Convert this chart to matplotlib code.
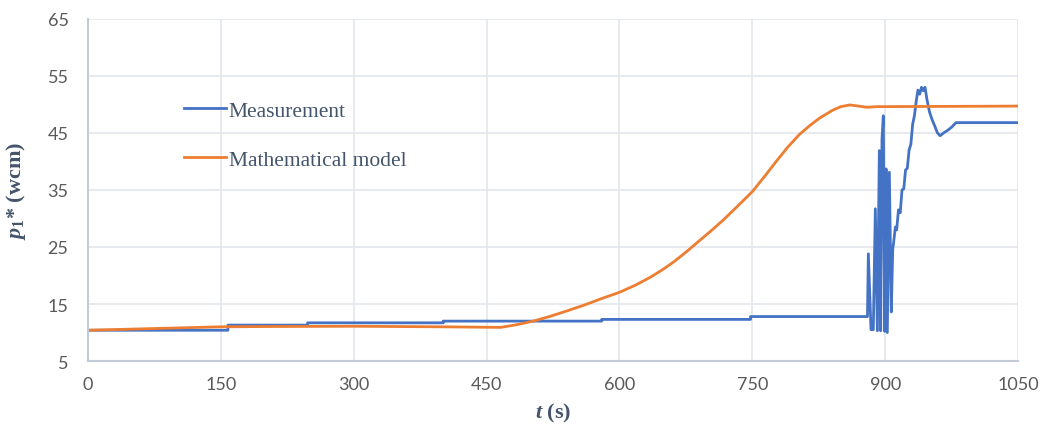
import matplotlib.pyplot as plt

# measured pressure p1* (wcm) over time t (s)
meas_t = [0, 158, 158, 248, 248, 401, 401, 580, 580, 748, 748, 880,
          881, 884, 886.6, 888.9, 891.2, 893.4, 894.9, 896.4, 897.9, 899.5,
          901, 902.4, 904.7, 906.9, 908.5, 910, 911.5, 913, 915, 917, 919,
          921, 923, 925, 927, 929, 931, 933, 935, 937, 939, 941, 943, 945,
          947, 950, 953, 956, 959, 962, 966, 970, 975, 980, 1050]
meas_p = [10.4, 10.4, 11.3, 11.3, 11.7, 11.7, 12.0, 12.0, 12.3, 12.3, 12.8, 12.8,
          23.8, 10.5, 10.5, 31.7, 10.3, 41.9, 10.3, 43.9, 48.0, 10.2,
          38.7, 10.0, 38.1, 13.6, 24.5, 26.4, 28.5, 28.0, 31.5, 31.0, 35.0,
          35.2, 38.5, 38.8, 42.0, 43.0, 46.5, 48.0, 50.5, 52.5, 51.8, 53.0, 52.4, 53.0,
          51.0, 48.7, 47.3, 46.2, 45.0, 44.5, 45.0, 45.4, 46.0, 46.8, 46.8]

# mathematical model output
model_t = [0, 50, 100, 150, 200, 300, 400, 466, 485, 504, 522, 541, 560, 579,
           600, 618, 635, 648, 661, 676, 691, 704, 717, 733, 750, 764, 777,
           790, 803, 815, 826, 841, 850, 860, 870, 879, 891, 1050]
model_p = [10.4, 10.6, 10.8, 11.0, 11.05, 11.1, 11.0, 10.9, 11.4, 12.05, 12.85,
           13.8, 14.8, 15.9, 17.05, 18.3, 19.7, 20.95, 22.35, 24.2, 26.2, 27.9,
           29.7, 32.1, 34.7, 37.4, 40.0, 42.5, 44.7, 46.3, 47.6, 49.0, 49.6,
           49.9, 49.7, 49.5, 49.6, 49.7]

x_ticks = [0, 150, 300, 450, 600, 750, 900, 1050]
y_ticks = [5, 15, 25, 35, 45, 55, 65]

plt.rcParams.update({
    "mathtext.fontset": "custom",
    "mathtext.it": "Liberation Serif:italic:bold",
    "mathtext.rm": "Liberation Serif:bold",
})

fig = plt.figure(figsize=(10.45, 4.31), dpi=100)
ax = fig.add_axes([0.0842, 0.160, 0.8900, 0.794])

ax.plot(meas_t, meas_p, color="#4472c4", linewidth=2, label="Measurement")
ax.plot(model_t, model_p, color="#ed7d31", linewidth=2, label="Mathematical model")

ax.set_xlim(0, 1050)
ax.set_ylim(5, 65)
ax.set_xticks(x_ticks)
ax.set_yticks(y_ticks)
ax.grid(True, color="#e3e6ec", linewidth=1.2)
ax.set_axisbelow(True)

for side in ("top", "right"):
    ax.spines[side].set_visible(False)
for side in ("left", "bottom"):
    ax.spines[side].set_color("#c3cbd8")
    ax.spines[side].set_linewidth(1.5)

ax.tick_params(length=0, labelcolor="#595959", labelsize=13)
ax.tick_params(axis="x", pad=11)
ax.tick_params(axis="y", pad=14)
for lbl in ax.get_xticklabels() + ax.get_yticklabels():
    lbl.set_fontfamily("Lato")

label_style = dict(fontfamily="Liberation Serif", fontweight="bold",
                   fontsize=16, color="#44546a")
ax.set_xlabel(r"$t$ (s)", labelpad=6, **label_style)
ax.set_ylabel(r"$p_{\mathit{1}}$* (wcm)", labelpad=14, **label_style)

leg = ax.legend(loc="upper left", bbox_to_anchor=(0.082, 0.818), frameon=False,
                handlelength=1.95, handletextpad=0.15, labelspacing=1.36,
                prop={"family": "Liberation Serif", "size": 15.5})
for txt in leg.get_texts():
    txt.set_color("#44546a")

fig.savefig("out.png", dpi=100)
